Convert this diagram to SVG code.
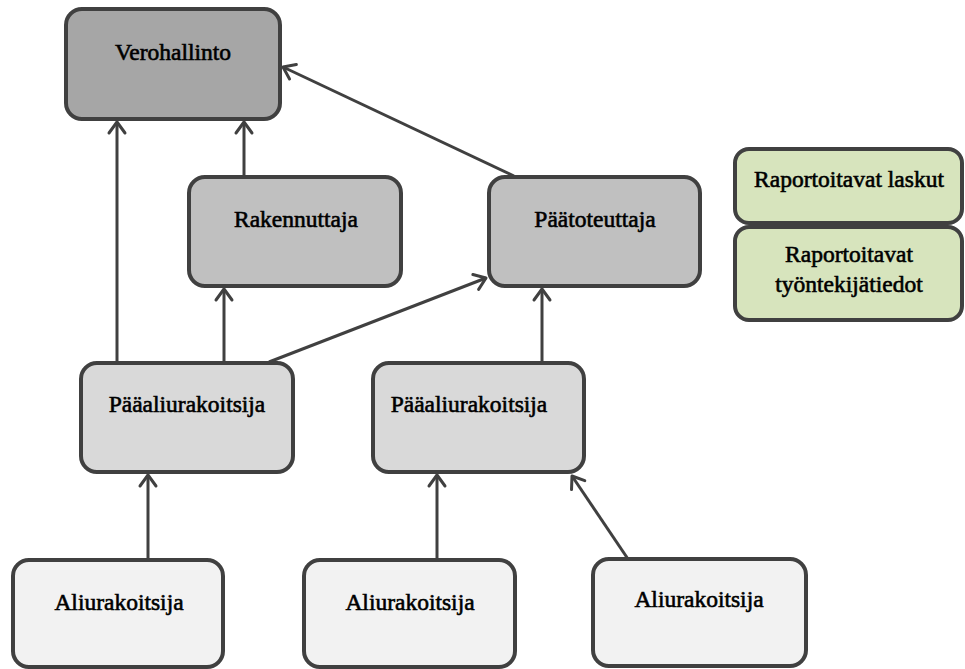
<svg xmlns="http://www.w3.org/2000/svg" width="965" height="669" viewBox="0 0 965 669">
  <defs>
    <marker id="arrow" markerUnits="userSpaceOnUse" markerWidth="30" markerHeight="30" viewBox="-15 -15 30 30" refX="0" refY="0" orient="auto">
      <path d="M-11,-8 L0,0 L-11,8" fill="none" stroke="#404040" stroke-width="3" stroke-linecap="round" stroke-linejoin="round"/>
    </marker>
  </defs>
  <style>
    .box { stroke: #404040; stroke-width: 4; }
    .l1 { fill: #a6a6a6; }
    .l2 { fill: #c0c0c0; }
    .l3 { fill: #d9d9d9; }
    .l4 { fill: #f2f2f2; }
    .note { fill: #d7e4bd; }
    .lbl { font-family: "Liberation Serif", serif; font-size: 23.5px; fill: #000; stroke: #000; stroke-width: 0.6; text-anchor: middle; }
    .edge { stroke: #404040; stroke-width: 3; fill: none; marker-end: url(#arrow); }
  </style>
  <rect width="965" height="669" fill="#ffffff"/>

  <g id="connectors">
    <line class="edge" x1="117" y1="363" x2="117" y2="122"/>
    <line class="edge" x1="244" y1="177" x2="244" y2="122"/>
    <line class="edge" x1="514" y1="176" x2="283" y2="67"/>
    <line class="edge" x1="224" y1="363" x2="224" y2="289"/>
    <line class="edge" x1="269" y1="362" x2="486" y2="278"/>
    <line class="edge" x1="542" y1="363" x2="542" y2="289"/>
    <line class="edge" x1="148" y1="560" x2="148" y2="475"/>
    <line class="edge" x1="437" y1="560" x2="437" y2="475"/>
    <line class="edge" x1="628" y1="559" x2="572" y2="476"/>
  </g>

  <g id="verohallinto">
    <rect class="box l1" x="66" y="9" width="214" height="110" rx="16"/>
    <text class="lbl" x="173" y="60">Verohallinto</text>
  </g>
  <g id="rakennuttaja">
    <rect class="box l2" x="189" y="177" width="212" height="109" rx="16"/>
    <text class="lbl" x="296" y="227">Rakennuttaja</text>
  </g>
  <g id="paatoteuttaja">
    <rect class="box l2" x="489" y="177" width="211" height="109" rx="16"/>
    <text class="lbl" x="595" y="227">Päätoteuttaja</text>
  </g>
  <g id="raportoitavat-laskut">
    <rect class="box note" x="735" y="149" width="227" height="74" rx="14"/>
    <text class="lbl" x="849" y="187">Raportoitavat laskut</text>
  </g>
  <g id="raportoitavat-tyontekijatiedot">
    <rect class="box note" x="735" y="227" width="227" height="93" rx="14"/>
    <text class="lbl" x="849" y="262">Raportoitavat</text>
    <text class="lbl" x="849" y="292">työntekijätiedot</text>
  </g>
  <g id="paaaliurakoitsija-1">
    <rect class="box l3" x="81" y="363" width="212" height="109" rx="16"/>
    <text class="lbl" x="187" y="412">Pääaliurakoitsija</text>
  </g>
  <g id="paaaliurakoitsija-2">
    <rect class="box l3" x="373" y="363" width="211" height="109" rx="16"/>
    <text class="lbl" x="469" y="412">Pääaliurakoitsija</text>
  </g>
  <g id="aliurakoitsija-1">
    <rect class="box l4" x="13" y="560" width="210" height="107" rx="16"/>
    <text class="lbl" x="119" y="610">Aliurakoitsija</text>
  </g>
  <g id="aliurakoitsija-2">
    <rect class="box l4" x="304" y="560" width="211" height="107" rx="16"/>
    <text class="lbl" x="410" y="610">Aliurakoitsija</text>
  </g>
  <g id="aliurakoitsija-3">
    <rect class="box l4" x="593" y="559" width="213" height="107" rx="16"/>
    <text class="lbl" x="699" y="607">Aliurakoitsija</text>
  </g>
</svg>
